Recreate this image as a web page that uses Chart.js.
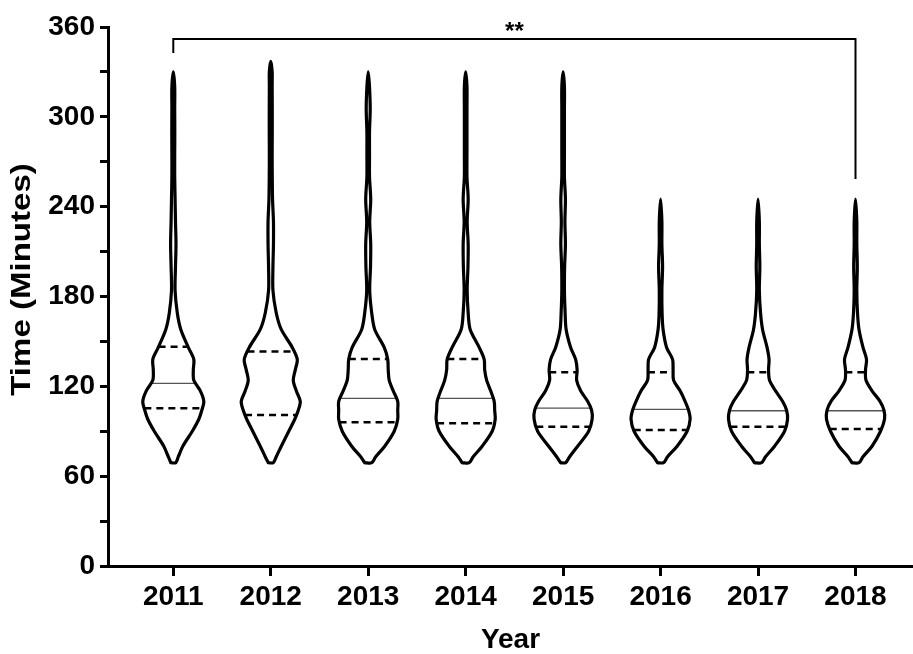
<!DOCTYPE html>
<html>
<head>
<meta charset="utf-8">
<title>Time (Minutes) by Year</title>
<script src="https://cdn.jsdelivr.net/npm/chart.js@4.4.1/dist/chart.umd.min.js"></script>
<style>
  html, body { margin: 0; padding: 0; background: #fff; }
</style>
</head>
<body>
<canvas id="violinChart" width="913" height="654"></canvas>
<script>
// categories
const years = ['2011', '2012', '2013', '2014', '2015', '2016', '2017', '2018'];

// time values (minutes) at which the violin half-widths were read
const timeGrid = [69, 73, 80, 90, 98, 104, 110, 117, 124, 131, 138, 146, 158, 169, 184, 200, 215, 230, 245, 260, 275, 290, 305, 320, 330, 337];

// violin half-widths (relative density) per year, null = above the maximum
const density2011 = [2.5, 5, 9.5, 19, 25.5, 28.5, 30.5, 27, 20.5, 20, 20.5, 15, 7.5, 4, 1.8, 2.2, 2.7, 2.2, 1.8, 1.4, 1.4, 1.5, 1.4, 1.4, 0, null];
const density2012 = [2.5, 5.5, 10.5, 18, 24, 27.5, 29.5, 25.5, 22.5, 24.5, 26.5, 21.5, 10.5, 5.5, 2.2, 2.2, 2.7, 2.7, 1.8, 1.5, 1.4, 1.5, 1.5, 1.4, 1.4, 0];
const density2013 = [3.5, 7.5, 16.5, 26, 29.5, 29.5, 29.5, 25, 21, 20, 19.5, 16, 6.5, 3.5, 1.5, 2.3, 2.5, 1.5, 2.5, 1.3, 1.3, 1.3, 2, 1.3, 0, null];
const density2014 = [3.5, 7.5, 16.5, 26.5, 29.5, 29, 28.5, 25, 21, 19, 18.5, 13.5, 4.5, 2.5, 1.5, 2.3, 2.5, 1.5, 2.5, 1.3, 1.3, 1.3, 1.3, 1.3, 0, null];
const density2015 = [2.5, 6.5, 14.5, 25.5, 29, 28.5, 24.5, 17.5, 13.5, 14, 12.5, 7.5, 3, 2, 1.3, 1.5, 2.3, 1.8, 2.3, 1.3, 1.3, 1.3, 1.3, 1.3, 0, null];
const density2016 = [3, 7, 16.5, 26.5, 29.5, 28, 24.5, 19.5, 13, 12.5, 12, 6, 2.5, 1.5, 1.3, 2, 1.3, 1.3, 0, null, null, null, null, null, null, null];
const density2017 = [3.5, 7.5, 16.5, 26.5, 29.5, 28.5, 24.5, 17.5, 11.5, 10.5, 11, 9, 4.5, 2.5, 1.3, 1.8, 1.3, 1.3, 0, null, null, null, null, null, null, null];
const density2018 = [3.5, 7.5, 16.5, 25, 29, 28.5, 24.5, 16.5, 10.5, 10, 11, 7.5, 3.5, 2, 1.3, 1.8, 1.3, 1.3, 0, null, null, null, null, null, null, null];
const densities = [density2011, density2012, density2013, density2014, density2015, density2016, density2017, density2018];

// summary lines
const medians = [122, null, 112, 112, 105.5, 104.6, 103.7, 103.7];
const lowerQuartiles = [105.3, 100.9, 96, 95.4, 93, 90.8, 93, 91.5];
const upperQuartiles = [146.5, 143.2, 138.3, 138.3, 129.4, 129.4, 129.4, 129.4];

// y axis
const yTickValues = [0, 60, 120, 180, 240, 300, 360];
const yTitle = 'Time (Minutes)';

// significance bracket between 2011 and 2018
const bracketYears = ['2011', '2018'];
const bracketHeight = 352;
const bracketLegEnds = [342.7, 258.5];
const bracketLabel = '**';

const widthScale = 1 / 97.4; // density units -> category units
const fontFamily = '"Liberation Sans", Arial, sans-serif';

function widthAt(dens, t) {
    for (let k = 0; k < timeGrid.length - 1; k++) {
        if (dens[k + 1] == null) break;
        if (t >= timeGrid[k] && t <= timeGrid[k + 1]) {
            const f = (t - timeGrid[k]) / (timeGrid[k + 1] - timeGrid[k]);
            return dens[k] + f * (dens[k + 1] - dens[k]);
        }
    }
    return 0;
}

function violinOutline(i) {
    const dens = densities[i];
    const c = i + 1;
    const left = [];
    const right = [];
    timeGrid.forEach((t, k) => {
        if (dens[k] == null) return;
        left.push({ x: c - dens[k] * widthScale, y: t });
        right.unshift({ x: c + dens[k] * widthScale, y: t });
    });
    // the top point is shared by both sides
    if (right[0].x === left[left.length - 1].x) right.shift();
    return left.concat(right, [left[0]]);
}

function hLine(i, value) {
    const w = widthAt(densities[i], value) * widthScale;
    return [{ x: i + 1 - w, y: value }, { x: i + 1 + w, y: value }];
}

const datasets = [];

years.forEach((year, i) => {
    datasets.push({
        label: year,
        data: violinOutline(i),
        borderColor: '#000',
        borderWidth: 3.2,
        tension: 0.3,
        borderJoinStyle: 'round',
        borderCapStyle: 'round',
        fill: false
    });
    if (medians[i] != null) {
        datasets.push({
            label: year + ' median',
            data: hLine(i, medians[i]),
            borderColor: '#555',
            borderWidth: 1.3
        });
    }
    [lowerQuartiles[i], upperQuartiles[i]].forEach(q => {
        datasets.push({
            label: year + ' quartile',
            data: hLine(i, q),
            borderColor: '#000',
            borderWidth: 2.5,
            borderDash: [7, 5]
        });
    });
});

const bx0 = years.indexOf(bracketYears[0]) + 1;
const bx1 = years.indexOf(bracketYears[1]) + 1;
datasets.push({
    label: 'bracket',
    data: [
        { x: bx0, y: bracketLegEnds[0] },
        { x: bx0, y: bracketHeight },
        { x: bx1, y: bracketHeight },
        { x: bx1, y: bracketLegEnds[1] }
    ],
    borderColor: '#000',
    borderWidth: 2,
    tension: 0
});

// "**" over the bracket and the (slightly stretched) y axis title
const textPlugin = {
    id: 'extraText',
    afterDatasetsDraw(chart) {
        const { ctx, scales, chartArea } = chart;
        const px = (scales.x.getPixelForValue(bx0) + scales.x.getPixelForValue(bx1)) / 2;
        const py = scales.y.getPixelForValue(bracketHeight);
        ctx.save();
        ctx.fillStyle = '#000';
        ctx.font = 'bold 24px ' + fontFamily;
        ctx.textAlign = 'center';
        ctx.textBaseline = 'alphabetic';
        ctx.fillText(bracketLabel, px, py);

        ctx.translate(22, (chartArea.top + chartArea.bottom) / 2 - 17);
        ctx.rotate(-Math.PI / 2);
        ctx.scale(1.18, 1);
        ctx.font = 'bold 28px ' + fontFamily;
        ctx.textBaseline = 'middle';
        ctx.fillText(yTitle, 0, 0);
        ctx.restore();
    }
};

const ctx = document.getElementById('violinChart').getContext('2d');
const myChart = new Chart(ctx, {
    type: 'scatter',
    data: { datasets: datasets },
    plugins: [textPlugin],
    options: {
        responsive: false,
        animation: false,
        showLine: true,
        elements: { point: { radius: 0, hoverRadius: 0 } },
        layout: { padding: { top: 27, right: 0, left: 0, bottom: 0 } },
        plugins: {
            legend: { display: false },
            tooltip: { enabled: false }
        },
        scales: {
            x: {
                type: 'linear',
                min: 0.33,
                max: 8.59,
                afterFit: s => { s.height = 88; },
                afterBuildTicks: s => { s.ticks = years.map((y, i) => ({ value: i + 1 })); },
                border: { color: '#000', width: 3 },
                grid: { drawOnChartArea: false, drawTicks: true, tickLength: 10, tickWidth: 3, tickColor: '#000' },
                ticks: {
                    color: '#000',
                    padding: 4,
                    font: { family: fontFamily, size: 28, weight: 'bold' },
                    callback: v => years[v - 1]
                },
                title: {
                    display: true,
                    text: 'Year',
                    color: '#000',
                    font: { family: fontFamily, size: 28, weight: 'bold', lineHeight: 1 },
                    padding: { top: 0, bottom: 0 }
                }
            },
            y: {
                min: 0,
                max: 360,
                afterFit: s => { s.width = 108; },
                border: { color: '#000', width: 3 },
                grid: { drawOnChartArea: false, drawTicks: true, tickLength: 8, tickWidth: 3, tickColor: '#000' },
                ticks: {
                    stepSize: 30,
                    color: '#000',
                    padding: 5,
                    font: { family: fontFamily, size: 28, weight: 'bold' },
                    callback: v => yTickValues.includes(v) ? v : ''
                }
            }
        }
    }
});
</script>
</body>
</html>
